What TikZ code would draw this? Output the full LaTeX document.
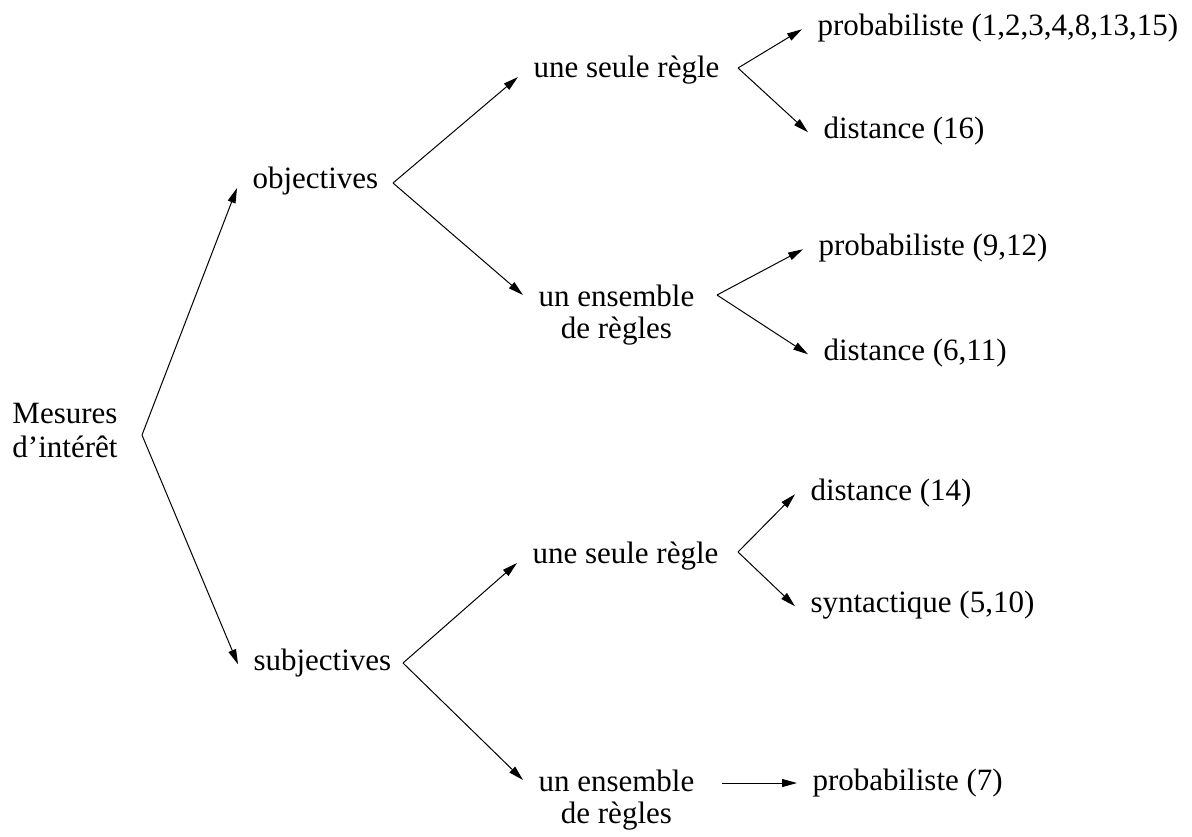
\documentclass[tikz,border=0pt]{standalone}
\usepackage{fontspec}
\setmainfont{Liberation Serif}
\usetikzlibrary{arrows.meta}

\begin{document}
\begin{tikzpicture}[x=0.4pt,y=-0.4pt,
    every node/.style={font=\fontsize{12.4}{12.6}\selectfont,inner xsep=6pt,inner ysep=0pt,anchor=base west},
    arr/.style={-{Triangle[length=6pt,width=3.2pt]},line width=0.4pt}]
    \useasboundingbox (0,0) rectangle (1192,836);
    \node [anchor=base,align=center,font=\fontsize{12.4}{13.6}\selectfont] (root) at (65,457) {Mesures\\d’intérêt};
    \foreach \n/\x/\y/\t in {obj/237/188/objectives, subj/238/670/subjectives,
        obj-one/518/77/une seule règle, subj-one/517/563/une seule règle,
        prob-a/802/35/{probabiliste (1,2,3,4,8,13,15)}, dist-a/808/138/distance (16),
        prob-b/803/255/{probabiliste (9,12)}, dist-b/808/360/{distance (6,11)},
        dist-c/795/500/distance (14), synt/795/612/{syntactique (5,10)},
        prob-c/797/790/probabiliste (7)}{
      \node (\n) at (\x,\y) {\t};
    }
    \node [align=center] (obj-set) at (523,338) {un ensemble\\de règles};
    \node [align=center] (subj-set) at (523,823) {un ensemble\\de règles};
    \foreach \n/\x/\y in {f-root/142/435, f-obj/393/183, f-subj/403/663,
        f-oa/738/68, f-ob/717/295, f-sa/738/552, f-sb/722/783}
      \coordinate (\n) at (\x,\y);
    \foreach \f/\t in {f-root/obj.base west, f-root/subj.mid west,
        f-obj/obj-one.base west, f-obj/obj-set.168,
        f-subj/subj-one.base west, f-subj/subj-set.168,
        f-oa/prob-a.mid west, f-oa/dist-a.mid west,
        f-ob/prob-b.mid west, f-ob/dist-b.mid west,
        f-sa/dist-c.mid west, f-sa/synt.mid west}
      \draw [arr] (\f) -- (\t);
    \draw [arr] (f-sb) -- (f-sb -| prob-c.west);
\end{tikzpicture}
\end{document}
